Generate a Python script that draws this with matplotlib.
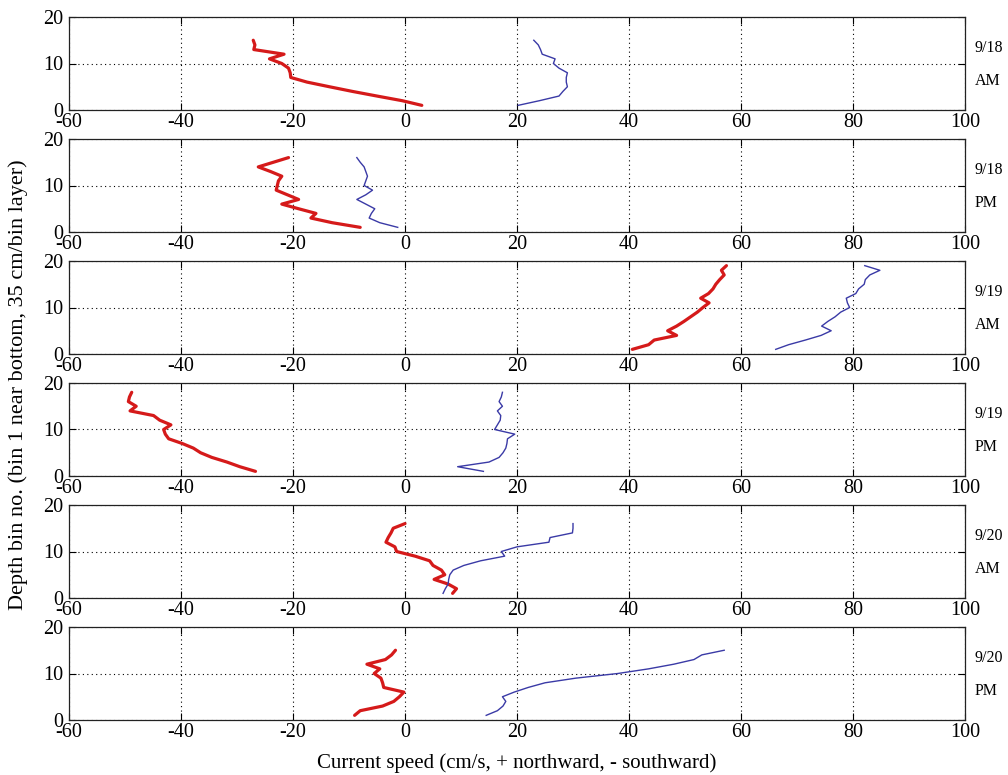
import matplotlib
matplotlib.use('Agg')
import matplotlib.pyplot as plt
import numpy as np

plt.rcParams['font.family'] = ['Liberation Serif', 'DejaVu Serif']
plt.rcParams['axes.unicode_minus'] = False

# ---------------- data ----------------
panel_dates = ['9/18', '9/18', '9/19', '9/19', '9/20', '9/20']
panel_times = ['AM', 'PM', 'AM', 'PM', 'AM', 'PM']

x_ticks = [-60, -40, -20, 0, 20, 40, 60, 80, 100]
y_ticks = [0, 10, 20]

# red (thick) profiles, depth bin 1 upward
red_918am = [3.0, -0.5, -5.0, -9.4, -13.5, -17.5, -20.4, -20.5, -20.8, -22.0,
             -24.2, -21.6, -27.0, -26.8, -27.1]
red_918pm = [-8.0, -13.0, -16.8, -15.9, -19.0, -22.0, -19.0, -21.0, -23.0, -22.8,
             -22.6, -22.0, -24.0, -26.2, -23.5, -20.8]
red_919am = [40.6, 43.5, 44.5, 48.5, 46.9, 48.5, 49.8, 51.0, 52.2, 53.2,
             54.3, 52.8, 54.2, 55.0, 55.5, 56.2, 57.0, 56.5, 57.4]
red_919pm = [-26.7, -29.5, -31.8, -34.5, -36.5, -37.8, -39.8, -42.2, -42.8, -43.1,
             -41.8, -43.8, -44.9, -49.1, -48.0, -49.4, -49.2, -48.8]
red_920am = [8.5, 9.2, 7.7, 5.2, 7.1, 6.5, 5.0, 4.4, 1.8, -1.5,
             -1.8, -3.4, -3.0, -2.5, -2.1, 0.0]
red_920pm = [-9.0, -8.0, -4.0, -2.0, -1.0, -0.2, -3.8, -4.0, -4.3, -5.5,
             -4.5, -6.8, -3.5, -2.4, -1.7]

# blue (thin) profiles, depth bin 1 upward
blue_918am = [20.2, 24.0, 27.5, 28.2, 29.0, 28.8, 28.8, 29.0, 27.5, 26.5,
              26.8, 24.5, 24.2, 23.8, 23.0]
blue_918pm = [-1.3, -4.5, -6.4, -6.0, -5.4, -7.0, -8.6, -7.0, -5.8, -7.3,
              -7.0, -6.7, -7.0, -7.3, -8.0, -8.6]
blue_919am = [66.2, 68.5, 71.5, 74.3, 76.1, 74.4, 75.5, 76.8, 77.8, 79.4,
              79.0, 78.8, 80.5, 81.0, 82.0, 82.2, 83.0, 84.8, 82.1]
blue_919pm = [14.0, 9.4, 15.0, 16.8, 17.5, 18.0, 18.2, 18.3, 19.6, 16.0,
              16.5, 17.0, 17.1, 16.5, 17.4, 16.8, 17.2, 17.4]
blue_920am = [6.8, 7.2, 7.7, 7.8, 8.0, 8.6, 10.5, 13.5, 17.8, 17.2,
              20.0, 25.7, 25.9, 29.9, 30.0, 30.0]
blue_920pm = [14.5, 16.5, 17.5, 18.0, 17.4, 19.5, 22.0, 25.0, 30.5, 38.0,
              43.5, 48.0, 51.6, 53.0, 57.0]

red_series = [red_918am, red_918pm, red_919am, red_919pm, red_920am, red_920pm]
blue_series = [blue_918am, blue_918pm, blue_919am, blue_919pm, blue_920am, blue_920pm]

# ---------------- figure ----------------
W, H = 1008, 775
fig = plt.figure(figsize=(W / 100, H / 100), dpi=100)

left_px, right_px = 69, 965
top0, period, height = 17, 122, 93

red_c = '#d51a1a'
blue_c = '#3a3aa6'

for k in range(6):
    top = top0 + period * k
    ax = fig.add_axes([left_px / W, 1 - (top + height) / H,
                       (right_px - left_px) / W, height / H])
    r = red_series[k]
    b = blue_series[k]
    ax.plot(r, np.arange(1, len(r) + 1), color=red_c, lw=2.3,
            solid_joinstyle='round', solid_capstyle='round', zorder=3)
    ax.plot(b, np.arange(1, len(b) + 1), color=blue_c, lw=1.0, zorder=3)
    ax.set_xlim(-60, 100)
    ax.set_ylim(0, 20)
    ax.set_xticks(x_ticks)
    ax.set_yticks(y_ticks)
    ax.grid(True, linestyle=(0, (1, 3)), color='k', lw=0.8)
    ax.tick_params(direction='in', top=True, right=True, length=5,
                   width=0.8, labelsize=14.5, colors='k')
    ax.tick_params(axis='x', pad=2)
    ax.tick_params(axis='y', pad=4)
    for s in ax.spines.values():
        s.set_linewidth(0.9)
        s.set_color('#222222')
    ax.text(1.011, 0.67, panel_dates[k], transform=ax.transAxes,
            fontsize=11.5, ha='left', va='center')
    ax.text(1.011, 0.31, panel_times[k], transform=ax.transAxes,
            fontsize=11.5, ha='left', va='center')

fig.text(18 / W, 1 - 385 / H, 'Depth bin no. (bin 1 near bottom, 35 cm/bin layer)',
         rotation=90, ha='center', va='center', fontsize=16)
fig.text((left_px + right_px) / 2 / W, 1 - 763 / H,
         'Current speed (cm/s, + northward, - southward)',
         ha='center', va='center', fontsize=15)

fig.savefig('out.png', dpi=100)
